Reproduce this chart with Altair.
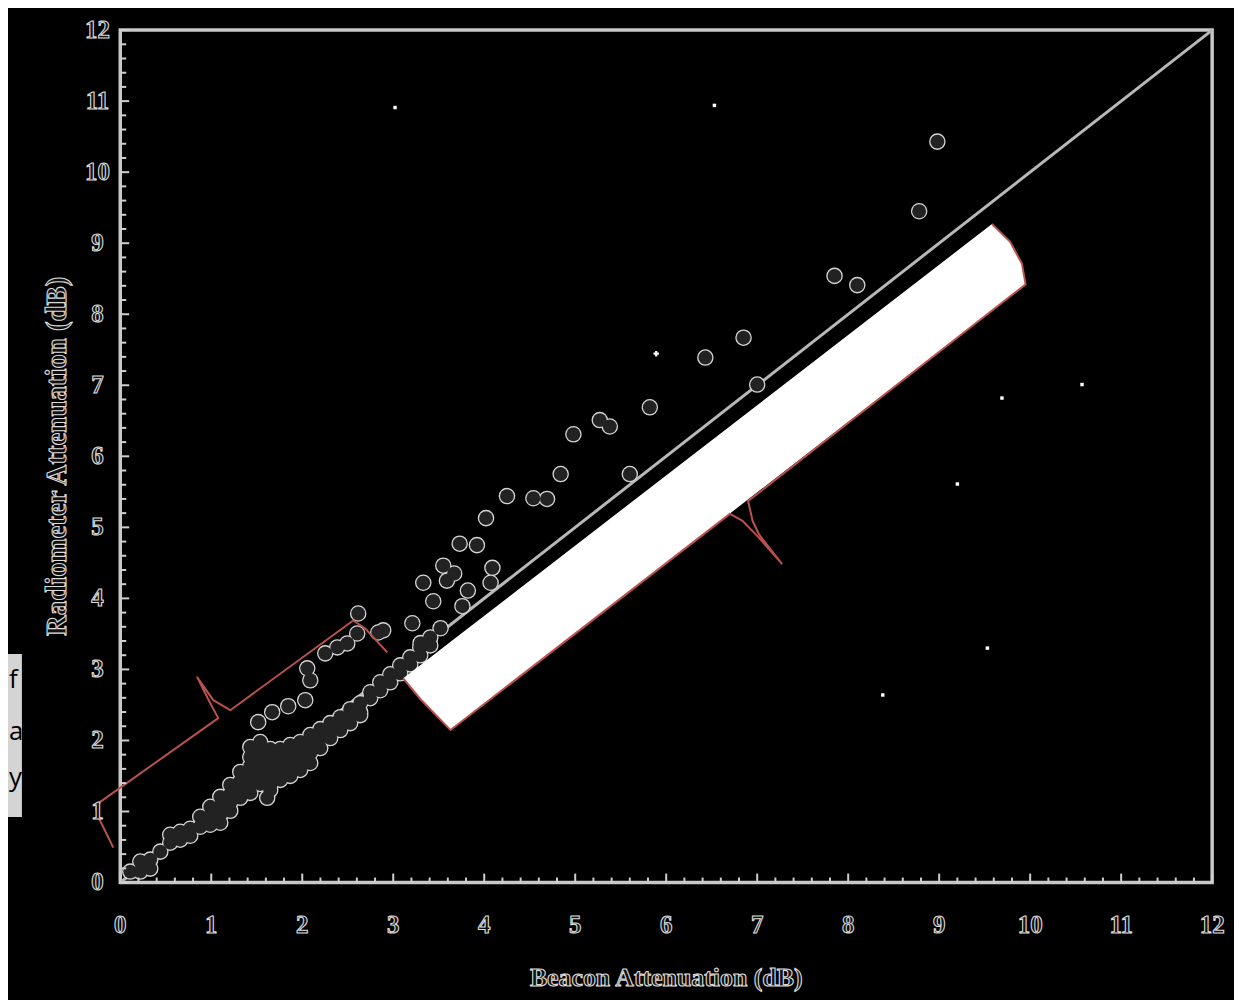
import altair as alt
import pandas as pd

# ---------------- data (dB) ----------------
# dense cluster of low-attenuation events (beacon, radiometer)
cluster_beacon = [
    0.110,
    0.220, 0.220,
    0.330, 0.330,
    0.440,
    0.549, 0.549,
    0.659, 0.659,
    0.769, 0.769,
    0.879, 0.879,
    0.989, 0.989, 0.989,
    1.099, 1.099, 1.099, 1.099,
    1.209, 1.209, 1.209, 1.209,
    1.319, 1.319, 1.319, 1.319,
    1.429, 1.429, 1.429, 1.429, 1.429, 1.429,
    1.538, 1.538, 1.538, 1.538, 1.538, 1.538,
    1.648, 1.648, 1.648, 1.648, 1.648, 1.648,
    1.758, 1.758, 1.758, 1.758, 1.758,
    1.868, 1.868, 1.868, 1.868, 1.868,
    1.978, 1.978, 1.978, 1.978,
    2.088, 2.088, 2.088, 2.088,
    2.198, 2.198, 2.198,
    2.308, 2.308, 2.308,
    2.418, 2.418, 2.418,
    2.527, 2.527, 2.527,
    2.637, 2.637, 2.637,
    2.747, 2.747,
    2.857, 2.857,
    2.967, 2.967,
    3.077, 3.077,
    3.187, 3.187,
    3.297, 3.297,
    3.407, 3.407,
    1.615, 1.516,
    1.670, 1.846, 2.033, 2.088, 2.055, 2.253, 2.385, 2.495, 2.604, 2.615, 2.835,
]
cluster_radiometer = [
    0.154,
    0.295, 0.154,
    0.323, 0.196,
    0.435,
    0.673, 0.561,
    0.715, 0.603,
    0.757, 0.659,
    0.926, 0.785,
    1.066, 0.940, 0.813,
    1.206, 1.080, 0.954, 0.842,
    1.374, 1.248, 1.122, 1.010,
    1.557, 1.431, 1.304, 1.192,
    1.907, 1.767, 1.641, 1.515, 1.388, 1.262,
    1.978, 1.851, 1.725, 1.599, 1.473, 1.388,
    1.879, 1.753, 1.627, 1.501, 1.374, 1.304,
    1.879, 1.753, 1.627, 1.501, 1.445,
    1.935, 1.809, 1.683, 1.557, 1.501,
    1.978, 1.851, 1.725, 1.585,
    2.076, 1.949, 1.823, 1.683,
    2.160, 2.034, 1.893,
    2.244, 2.132, 2.034,
    2.328, 2.216, 2.146,
    2.440, 2.342, 2.244,
    2.524, 2.398, 2.356,
    2.679, 2.595,
    2.819, 2.707,
    2.931, 2.819,
    3.057, 2.945,
    3.170, 3.071,
    3.310, 3.198,
    3.450, 3.338,
    1.192, 2.258,
    2.398, 2.482, 2.567, 2.847, 3.015, 3.226, 3.310, 3.366, 3.506, 3.787, 3.520,
]
# scattered higher-attenuation events
scatter_beacon = [
    2.89, 3.21, 3.30, 3.33, 3.44, 3.52, 3.55, 3.59, 3.67, 3.76, 3.82, 3.73,
    3.92, 4.09, 4.07, 4.02, 4.25, 4.54, 4.69, 4.84, 4.98, 5.27, 5.38, 5.60,
    5.82, 6.43, 6.85, 7.00, 7.85, 8.10, 8.78, 8.98,
]
scatter_radiometer = [
    3.55, 3.65, 3.37, 4.22, 3.96, 3.58, 4.46, 4.25, 4.35, 3.89, 4.11, 4.77,
    4.75, 4.43, 4.22, 5.13, 5.44, 5.41, 5.40, 5.75, 6.31, 6.51, 6.42, 5.75,
    6.69, 7.39, 7.67, 7.01, 8.54, 8.41, 9.45, 10.43,
]
# 1:1 reference line
line_x = [0, 12]
line_y = [0, 12]

# axis ticks / labels
tick_values = list(range(0, 13))
tick_labels = [str(v) for v in tick_values]
minor_values = [i / 5 for i in range(0, 61) if i % 5 != 0]

x_title = "Beacon Attenuation (dB)"
y_title = "Radiometer Attenuation (dB)"

# annotation overlays (white brace over the 1:1 line, red brace near cluster)
brace_fill_x = [3.11, 3.30, 3.63, 9.58, 9.78, 9.91, 9.95]
brace_fill_top = [2.875, 3.063, 3.389, 9.27, 9.02, 8.71, 8.44]
brace_fill_bottom = [2.875, 2.58, 2.146, 8.054, 8.25, 8.38, 8.42]
brace_edge_x = [3.11, 3.30, 3.63, 6.70, 6.84, 7.00, 7.27, 7.02, 6.95, 6.90, 9.95, 9.91, 9.78, 9.58]
brace_edge_y = [2.875, 2.58, 2.146, 5.19, 5.09, 4.88, 4.49, 4.90, 5.09, 5.37, 8.42, 8.71, 9.02, 9.27]
left_brace_x = [-0.077, -0.253, -0.264, -0.220, 1.077, 0.989, 0.846, 1.022, 1.209, 2.560, 2.692, 2.934]
left_brace_y = [0.491, 0.954, 1.052, 1.136, 2.314, 2.524, 2.889, 2.567, 2.426, 3.689, 3.576, 3.240]

# scan specks
speck_x = [3.02, 6.53, 10.57, 9.69, 9.20, 9.53, 8.38]
speck_y = [10.91, 10.94, 7.01, 6.82, 5.61, 3.30, 2.64]
cross_x = [5.89]
cross_y = [7.445]

# fragments of neighbouring page text at the left edge
edge_text = ["f", "a", "y"]

# ---------------- chart ----------------
W, H = 1099, 858
xs = alt.Scale(domain=[0, 12], nice=False, zero=False)
ys = alt.Scale(domain=[0, 12], nice=False, zero=False)
FG = "#cfcfcf"
DOT_FILL = "#222222"
RED = "#b9524f"
SERIF = "Liberation Serif"


def X(f):
    return alt.X(f, type="quantitative", scale=xs, axis=None)


def Y(f):
    return alt.Y(f, type="quantitative", scale=ys, axis=None)


pts = pd.DataFrame({
    "b": cluster_beacon + scatter_beacon,
    "r": cluster_radiometer + scatter_radiometer,
})

diag = alt.Chart(pd.DataFrame({"x": line_x, "y": line_y})).mark_line(
    color="#b8b8b8", strokeWidth=3
).encode(x=X("x"), y=Y("y"))

ring = alt.Chart(pts).mark_circle(
    size=200, color=DOT_FILL, opacity=1, stroke="#d6d6d6", strokeWidth=2.5
).encode(x=X("b"), y=Y("r"))

core = alt.Chart(pts).mark_circle(
    size=196, color=DOT_FILL, opacity=1, strokeWidth=0
).encode(x=X("b"), y=Y("r"))

brace_fill = alt.Chart(pd.DataFrame({
    "x": brace_fill_x, "t": brace_fill_top, "b": brace_fill_bottom
})).mark_area(color="white", opacity=1).encode(
    x=X("x"), y=Y("t"), y2=alt.Y2("b")
)

brace_edge = alt.Chart(pd.DataFrame({
    "x": brace_edge_x, "y": brace_edge_y, "o": list(range(len(brace_edge_x)))
})).mark_line(color=RED, strokeWidth=2, strokeJoin="round").encode(
    x=X("x"), y=Y("y"), order="o:Q"
)

left_brace = alt.Chart(pd.DataFrame({
    "x": left_brace_x, "y": left_brace_y, "o": list(range(len(left_brace_x)))
})).mark_line(color=RED, strokeWidth=2, strokeJoin="round").encode(
    x=X("x"), y=Y("y"), order="o:Q"
)

specks = alt.Chart(pd.DataFrame({"x": speck_x, "y": speck_y})).mark_square(
    size=12, color="white", opacity=1
).encode(x=X("x"), y=Y("y"))

cross = alt.Chart(pd.DataFrame({"x": cross_x, "y": cross_y})).mark_point(
    shape="cross", size=30, filled=True, color="white", opacity=1
).encode(x=X("x"), y=Y("y"))

tick_df = pd.DataFrame({"v": tick_values, "lab": tick_labels})
minor_df = pd.DataFrame({"v": minor_values})

xmaj = alt.Chart(tick_df).mark_rule(color=FG, strokeWidth=2).encode(
    x=X("v"), y=alt.value(H), y2=alt.value(H - 9))
xmin = alt.Chart(minor_df).mark_rule(color=FG, strokeWidth=2).encode(
    x=X("v"), y=alt.value(H), y2=alt.value(H - 5))
ymaj = alt.Chart(tick_df).mark_rule(color=FG, strokeWidth=2).encode(
    y=Y("v"), x=alt.value(0), x2=alt.value(9))
ymin = alt.Chart(minor_df).mark_rule(color=FG, strokeWidth=2).encode(
    y=Y("v"), x=alt.value(0), x2=alt.value(6))

lab_style = dict(font=SERIF, fontWeight="bold", fontSize=25, fill="#111111",
                 stroke="#dcdcdc", strokeWidth=1.1, baseline="middle", align="center")
xlab = alt.Chart(tick_df).mark_text(**lab_style).encode(
    x=X("v"), y=alt.value(H + 43), text="lab:N")
ylab = alt.Chart(tick_df).mark_text(**lab_style).encode(
    y=Y("v"), x=alt.value(-23), text="lab:N")

title_style = dict(font=SERIF, fontWeight="bold", fill="#111111",
                   stroke="#dcdcdc", strokeWidth=1.1, baseline="middle", align="center")
xt = alt.Chart(pd.DataFrame({"t": [x_title]})).mark_text(fontSize=26, **title_style).encode(
    x=alt.value(W / 2), y=alt.value(H + 96), text="t:N")
yt = alt.Chart(pd.DataFrame({"t": [y_title]})).mark_text(fontSize=29, angle=270, **title_style).encode(
    x=alt.value(-64), y=alt.value(H / 2), text="t:N")

# light strip of the neighbouring page with its text fragments
strip = alt.Chart(pd.DataFrame({"a": [0]})).mark_rect(color="#d4d4d4").encode(
    x=alt.value(-113), x2=alt.value(-99), y=alt.value(628), y2=alt.value(792))
edge = alt.Chart(pd.DataFrame({"t": edge_text, "yy": [654, 707, 753]})).mark_text(
    font="Open Sans", fontSize=26, color="black", align="left", baseline="middle"
).encode(x=alt.value(-112), y=alt.Y("yy:Q", scale=None, axis=None), text="t:N")

chart = alt.layer(
    diag, ring, core, brace_fill, brace_edge, left_brace, specks, cross,
    xmaj, xmin, ymaj, ymin, xlab, ylab, xt, yt, strip, edge
).properties(
    width=W, height=H,
    padding={"left": 113, "top": 19, "right": 22, "bottom": 115},
    autosize=alt.AutoSizeParams(type="none"),
).configure(background="black").configure_view(stroke="#c8c8c8", strokeWidth=3.5)

chart.save("out.html", embed_options={"renderer": "svg", "actions": False})
